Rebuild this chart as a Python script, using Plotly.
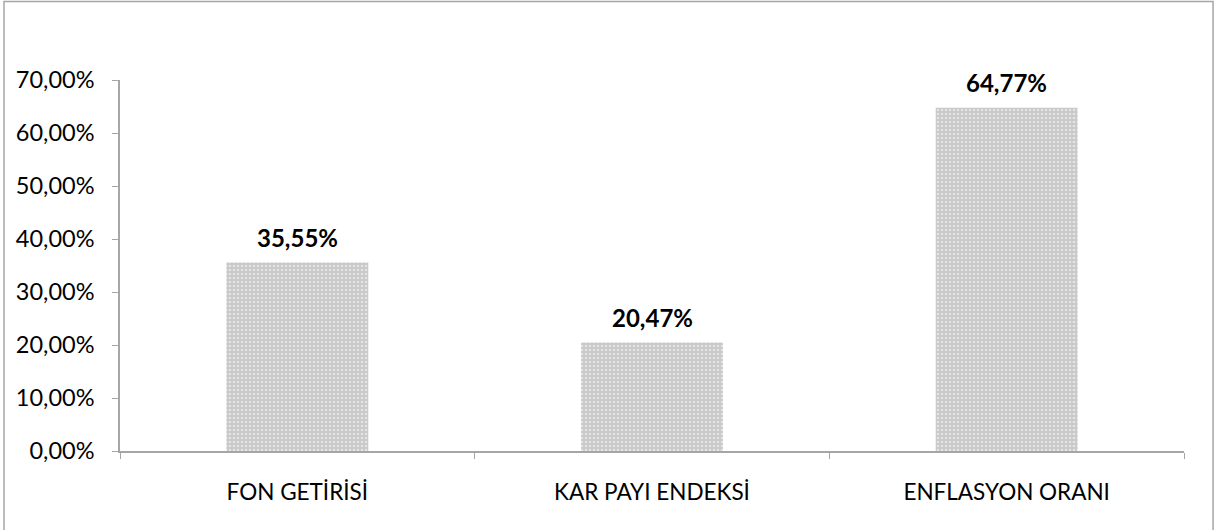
import plotly.graph_objects as go

categories = ["FON GETİRİSİ", "KAR PAYI ENDEKSİ", "ENFLASYON ORANI"]
values = [0.3555, 0.2047, 0.6477]
y_ticks = [0, 0.1, 0.2, 0.3, 0.4, 0.5, 0.6, 0.7]

FONT = "Lato"

fig = go.Figure()
fig.add_trace(go.Bar(
    x=categories, y=values, width=0.4,
    marker=dict(color="#cfcfcf", line=dict(width=0),
                pattern=dict(shape=".", fgcolor="#ffffff", bgcolor="#c8c8c8",
                             size=4, solidity=0.35)),
    hoverinfo="skip",
))

for c, v in zip(categories, values):
    fig.add_annotation(x=c, y=v, text="<b>" + f"{v*100:.2f}".replace(".", ",") + "%</b>",
                       showarrow=False, yanchor="bottom", yshift=9,
                       font=dict(family=FONT, size=24, color="#000000"))

fig.add_shape(type="rect", xref="paper", yref="paper",
              x0=-0.109, x1=1.0273, y0=-0.25, y1=1.2116,
              line=dict(color="#a6a6a6", width=1.5), fillcolor="rgba(0,0,0,0)", layer="below")

fig.update_layout(
    width=1219, height=530,
    margin=dict(l=120, r=35, t=80, b=79),
    paper_bgcolor="white", plot_bgcolor="white",
    separators=",.",
    showlegend=False,
    bargap=0.6,
    font=dict(family=FONT, size=23, color="#000000"),
)
fig.update_xaxes(
    showline=True, linecolor="#a6a6a6", linewidth=1.5,
    ticks="outside", tickson="boundaries", ticklen=6, tickcolor="#a6a6a6",
    ticklabelstandoff=20, tickfont=dict(family=FONT, size=22.5),
    showgrid=False, zeroline=False,
)
fig.update_yaxes(
    range=[0, 0.7], tickvals=y_ticks, tickformat=".2%",
    showline=True, linecolor="#a6a6a6", linewidth=1.5,
    ticks="outside", ticklen=6, tickcolor="#a6a6a6",
    ticklabelstandoff=13, tickfont=dict(family=FONT, size=23.5),
    showgrid=False, zeroline=False,
)

fig.write_html("out.html", config={"displayModeBar": False},
               post_script="document.body.style.margin='0';document.body.style.padding='0';")
